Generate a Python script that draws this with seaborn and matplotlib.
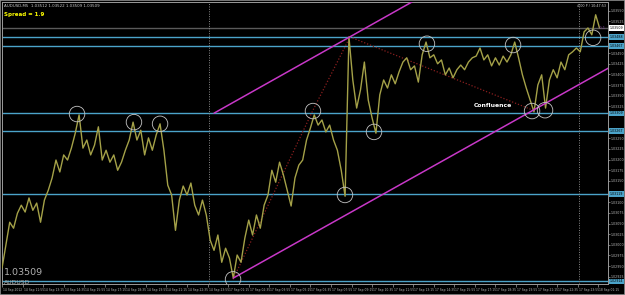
import matplotlib
matplotlib.use("Agg")
import matplotlib.pyplot as plt
import matplotlib.transforms as mtrans
import numpy as np
import pandas as pd
import seaborn as sns

# ---------------- data ----------------
symbol = "AUDUSD"
bid_price = 1.03509
header_text = "AUDUSD,M5  1.03512 1.03522 1.03509 1.03509"
spread_text = "Spread = 1.9"
clock_text = "4:00 P / 10:47:53"
note_text = "-0.1"
bar_step = 3  # one sampled close every 3 M5 bars

close_prices = [
    1.02945, 1.02999, 1.03053, 1.03039, 1.03074, 1.03093, 1.03077, 1.03110, 1.03081, 1.03098,
    1.03053, 1.03105, 1.03128, 1.03157, 1.03199, 1.03171, 1.03211, 1.03199, 1.03227, 1.03262,
    1.03305, 1.03227, 1.03246, 1.03211, 1.03234, 1.03277, 1.03199, 1.03222, 1.03194, 1.03211,
    1.03175, 1.03194, 1.03222, 1.03246, 1.03288, 1.03246, 1.03269, 1.03211, 1.03251, 1.03222,
    1.03258, 1.03284, 1.03222, 1.03140, 1.03117, 1.03034, 1.03105, 1.03138, 1.03117, 1.03145,
    1.03093, 1.03070, 1.03105, 1.03070, 1.03011, 1.02987, 1.03023, 1.02959, 1.02992, 1.02969,
    1.02922, 1.02976, 1.02959, 1.03016, 1.03058, 1.03023, 1.03070, 1.03039, 1.03093, 1.03117,
    1.03175, 1.03147, 1.03194, 1.03164, 1.03128, 1.03091, 1.03157, 1.03187, 1.03199, 1.03246,
    1.03274, 1.03305, 1.03281, 1.03293, 1.03265, 1.03281, 1.03246, 1.03222, 1.03175, 1.03114,
    1.03488, 1.03387, 1.03321, 1.03364, 1.03429, 1.03340, 1.03298, 1.03262, 1.03352, 1.03387,
    1.03368, 1.03399, 1.03378, 1.03406, 1.03429, 1.03439, 1.03411, 1.03420, 1.03382, 1.03446,
    1.03476, 1.03439, 1.03446, 1.03425, 1.03434, 1.03399, 1.03415, 1.03392, 1.03411, 1.03422,
    1.03411, 1.03429, 1.03439, 1.03443, 1.03462, 1.03434, 1.03446, 1.03420, 1.03439, 1.03422,
    1.03443, 1.03429, 1.03446, 1.03476, 1.03439, 1.03399, 1.03368, 1.03340, 1.03312, 1.03375,
    1.03399, 1.03321, 1.03387, 1.03411, 1.03392, 1.03429, 1.03411, 1.03446, 1.03453, 1.03462,
    1.03453, 1.03500, 1.03509, 1.03493, 1.03540, 1.03509,
]

level_prices = [1.03488, 1.03467, 1.03309, 1.03267, 1.03119, 1.02914]

channel_upper_bars = [165, 319]
channel_upper_prices = [1.03309, 1.03570]
channel_lower_bars = [180, 472]
channel_lower_prices = [1.02922, 1.03415]

swing_bars = [179.8, 242.0, 270.8, 413.2]
swing_prices = [1.02919, 1.03316, 1.03488, 1.03316]

circle_bars = [58.4, 102.7, 123.0, 179.8, 242.0, 266.9, 289.5, 330.7, 397.7, 412.5, 422.6, 460.0]
circle_prices = [1.03307, 1.03288, 1.03284, 1.02919, 1.03314, 1.03117, 1.03265, 1.03472,
                 1.03469, 1.03314, 1.03316, 1.03486]

day_separator_bars = [161, 449]

time_tick_bars = list(range(0, 465, 16))
time_tick_labels = [
    "14 Sep 2012", "14 Sep 11:55", "14 Sep 13:15", "14 Sep 14:35", "14 Sep 15:55",
    "14 Sep 17:15", "14 Sep 18:35", "14 Sep 19:55", "14 Sep 21:15", "14 Sep 22:35",
    "14 Sep 23:55", "17 Sep 01:15", "17 Sep 02:35", "17 Sep 03:55", "17 Sep 05:15",
    "17 Sep 06:35", "17 Sep 07:55", "17 Sep 09:15", "17 Sep 10:35", "17 Sep 11:55",
    "17 Sep 13:15", "17 Sep 14:35", "17 Sep 15:55", "17 Sep 17:15", "17 Sep 18:35",
    "17 Sep 19:55", "17 Sep 21:15", "17 Sep 22:35", "17 Sep 23:55", "18 Sep 01:15",
]

confluence_label = "Confluence"
confluence_bar = 382
confluence_price = 1.03328

# ---------------- styling ----------------
sns.set_theme(style="dark")
BG = "#000000"
PRICE_COLOR = "#a4a148"
LEVEL_COLOR = "#4ba3c9"
CHANNEL_COLOR = "#c838c8"
SWING_COLOR = "#8a1f1f"
CIRCLE_COLOR = "#c4c4c4"
AXIS_TXT = "#b8b8b8"
plt.rcParams["font.family"] = ["DejaVu Sans"]

fig = plt.figure(figsize=(6.25, 2.95), dpi=100, facecolor=BG)
ax = fig.add_axes([2 / 625, 11 / 295, 606 / 625, 282 / 295])
ax.set_facecolor(BG)

df = pd.DataFrame({"bar": np.arange(len(close_prices)) * bar_step, "price": close_prices})

# horizontal levels
for p in level_prices:
    ax.axhline(p, color=LEVEL_COLOR, lw=1.0, zorder=1)
ax.axhline(bid_price, color="#5a5a5a", lw=1.0, zorder=1)

# day separators
for b in day_separator_bars:
    ax.axvline(b, color="#8a8a8a", lw=0.7, ls=(0, (1, 1.5)), zorder=1)

# swing dotted path
ax.plot(swing_bars, swing_prices, color=SWING_COLOR, lw=0.9, ls=(0, (1, 1.5)), zorder=2)

# price
sns.lineplot(data=df, x="bar", y="price", ax=ax, color=PRICE_COLOR, lw=1.0, zorder=3)

# channel lines
ax.plot(channel_upper_bars, channel_upper_prices, color=CHANNEL_COLOR, lw=1.1, zorder=4)
ax.plot(channel_lower_bars, channel_lower_prices, color=CHANNEL_COLOR, lw=1.1, zorder=4)

# circles
ax.scatter(circle_bars, circle_prices, s=125, facecolors="none", edgecolors=CIRCLE_COLOR,
           linewidths=0.6, zorder=5)

ax.text(confluence_bar, confluence_price, confluence_label, color="white", fontsize=4.4,
        fontweight="bold", ha="center", va="center", zorder=6)

ax.set_xlim(0, 471.6)
ax.set_ylim(1.02908, 1.03570)
ax.set_xlabel("")
ax.set_ylabel("")

# right price axis (labels hidden under highlighted boxes are skipped)
ax.yaxis.tick_right()
yt = np.arange(1.02925, 1.03575, 0.00025)
marked = level_prices + [bid_price]
yt = [v for v in yt if min(abs(v - m) for m in marked) > 0.00010]
ax.set_yticks(yt)
ax.set_yticklabels([f"{v:.5f}" for v in yt], fontsize=2.3, color=AXIS_TXT)
ax.tick_params(axis="y", length=1.2, width=0.5, color="#a0a0a0", pad=0.5, right=True)

# time axis
ax.set_xticks(time_tick_bars)
ax.set_xticklabels(time_tick_labels, fontsize=2.2, color=AXIS_TXT, ha="left")
ax.tick_params(axis="x", length=2, width=0.5, color="#a0a0a0", pad=1, bottom=True)
for lbl in ax.get_xticklabels():
    lbl.set_transform(lbl.get_transform() + mtrans.ScaledTranslation(1 / 100, 0, fig.dpi_scale_trans))

for side, sp in ax.spines.items():
    sp.set_visible(True)
    sp.set_color("#9a9a9a")
    sp.set_linewidth(0.7)
ax.grid(False)

# highlighted price labels on right axis
trans = mtrans.blended_transform_factory(ax.transAxes, ax.transData)
for p in level_prices:
    ax.text(1.003, p, f"{p:.5f}", transform=trans, fontsize=2.3, color="#000000",
            ha="left", va="center", clip_on=False,
            bbox=dict(boxstyle="square,pad=0.2", fc=LEVEL_COLOR, ec="none"))
ax.text(1.003, bid_price, f"{bid_price:.5f}", transform=trans, fontsize=2.3, color="#000000",
        ha="left", va="center", clip_on=False,
        bbox=dict(boxstyle="square,pad=0.2", fc="white", ec="none"))

# overlay texts
ax.text(0.004, 0.993, header_text, transform=ax.transAxes, fontsize=2.9, color="#c8c8c8",
        ha="left", va="top")
ax.text(0.004, 0.965, spread_text, transform=ax.transAxes, fontsize=4.0, color="#ffff00",
        fontweight="bold", ha="left", va="top")
ax.text(0.997, 0.993, clock_text, transform=ax.transAxes, fontsize=2.4, color="#c8c8c8",
        ha="right", va="top")
ax.text(0.997, 0.915, note_text, transform=ax.transAxes, fontsize=2.6, color="#8040a0",
        ha="right", va="top")
ax.text(0.003, 0.025, f"{bid_price:.5f}", transform=ax.transAxes, fontsize=6.8,
        color="#b0b0b0", ha="left", va="bottom")
ax.text(0.003, -0.005, symbol, transform=ax.transAxes, fontsize=4.4, color="#b0b0b0",
        ha="left", va="bottom")

# window frame
fig.patches.append(plt.Rectangle((0, 0), 1, 1, transform=fig.transFigure, fill=False,
                                 ec="#8c8c8c", lw=1.2))

fig.savefig("out.png", dpi=100, facecolor=BG)
